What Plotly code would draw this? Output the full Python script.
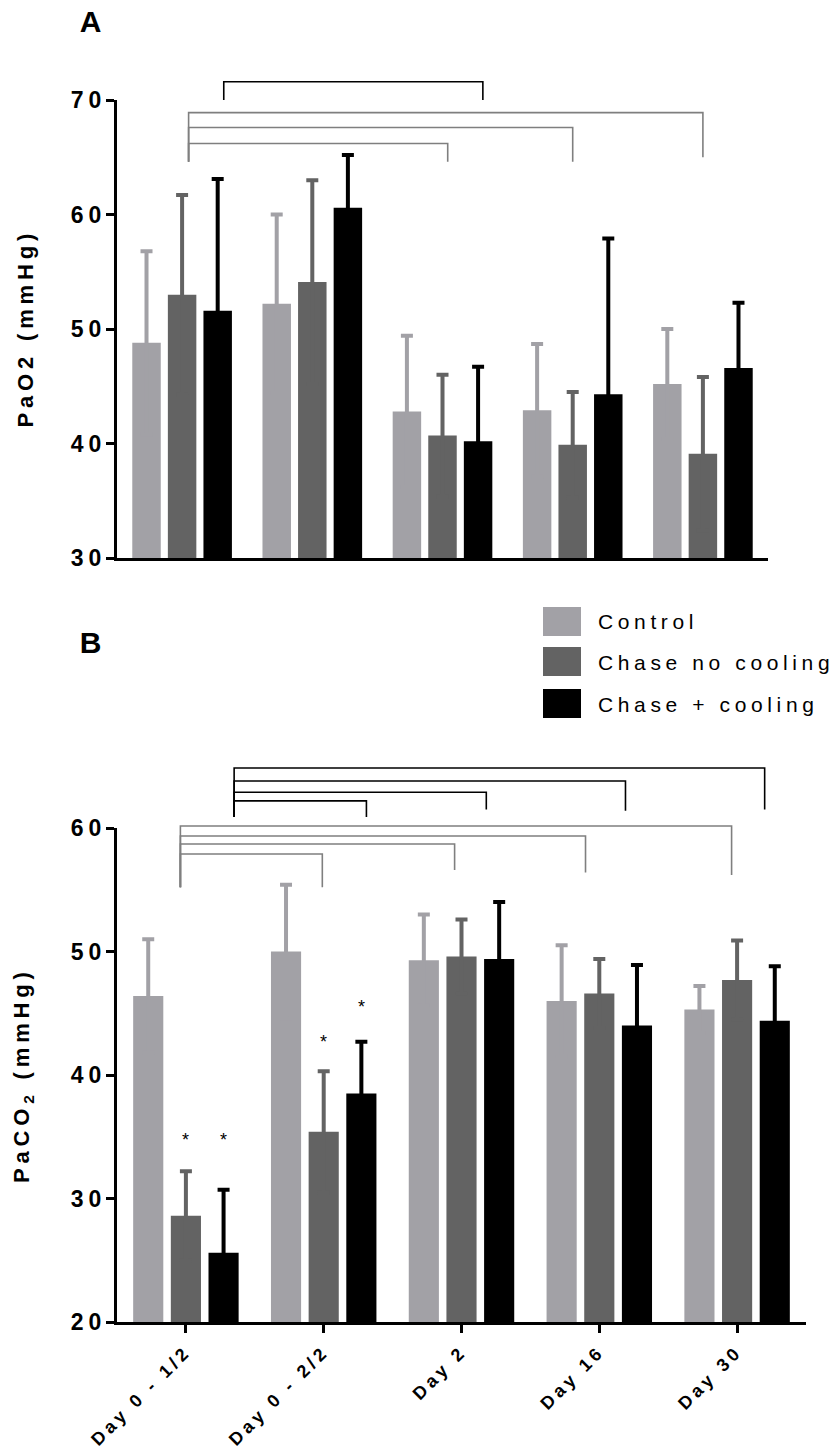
import plotly.graph_objects as go

# ---------------- data ----------------
categories = ["Day 0 - 1/2", "Day 0 - 2/2", "Day 2", "Day 16", "Day 30"]
groups = ["Control", "Chase no cooling", "Chase + cooling"]
colors = ["#a2a1a6", "#636363", "#000000"]

# Panel A: PaO2 (mmHg), mean and SD
pao2_control = [48.8, 52.2, 42.8, 42.9, 45.2]
pao2_control_sd = [8.0, 7.8, 6.6, 5.8, 4.8]
pao2_nocool = [53.0, 54.1, 40.7, 39.9, 39.1]
pao2_nocool_sd = [8.7, 8.9, 5.3, 4.6, 6.7]
pao2_cool = [51.6, 60.6, 40.2, 44.3, 46.6]
pao2_cool_sd = [11.5, 4.6, 6.5, 13.6, 5.7]

# Panel B: PaCO2 (mmHg), mean and SD
paco2_control = [46.4, 50.0, 49.3, 46.0, 45.3]
paco2_control_sd = [4.6, 5.4, 3.7, 4.5, 1.9]
paco2_nocool = [28.6, 35.4, 49.6, 46.6, 47.7]
paco2_nocool_sd = [3.6, 4.9, 3.0, 2.8, 3.2]
paco2_cool = [25.6, 38.5, 49.4, 44.0, 44.4]
paco2_cool_sd = [5.1, 4.2, 4.6, 4.9, 4.4]

# significance brackets: (x_left, x_right, y_bar, y_left_end, y_right_end, colour)
pao2_brackets = [
    (0.32, 2.31, 71.6, 70.0, 70.0, "#000000"),
    (0.05, 4.00, 68.9, 64.6, 65.0, "#7f7f7f"),
    (0.05, 3.00, 67.6, 64.6, 64.6, "#7f7f7f"),
    (0.05, 2.04, 66.2, 64.6, 64.6, "#7f7f7f"),
]
paco2_brackets = [
    (0.35, 4.20, 64.86, 60.9, 61.5, "#000000"),
    (0.35, 3.19, 63.8, 60.9, 61.4, "#000000"),
    (0.35, 2.18, 62.9, 60.9, 61.5, "#000000"),
    (0.35, 1.31, 62.2, 60.9, 60.9, "#000000"),
    (-0.04, 3.96, 60.16, 55.2, 56.2, "#7f7f7f"),
    (-0.04, 2.90, 59.35, 55.2, 56.4, "#7f7f7f"),
    (-0.04, 1.95, 58.7, 55.2, 56.6, "#7f7f7f"),
    (-0.04, 0.99, 57.9, 55.2, 55.2, "#7f7f7f"),
]
# asterisks (x position in category units, y value)
paco2_stars_x = [0.0, 0.272, 1.0, 1.272]
paco2_stars_y = [35.1, 35.1, 43.0, 45.8]

pao2_range = [30, 70]
paco2_range = [20, 60]

W, H = 840, 1452
FONT = "Liberation Sans, Arial, Helvetica, sans-serif"


def px_x(p):
    return p / W


def px_y(p):
    return 1 - p / H


fig = go.Figure()

panelA = [(pao2_control, pao2_control_sd), (pao2_nocool, pao2_nocool_sd), (pao2_cool, pao2_cool_sd)]
panelB = [(paco2_control, paco2_control_sd), (paco2_nocool, paco2_nocool_sd), (paco2_cool, paco2_cool_sd)]

for panel, xa, ya in [(panelA, "x", "y"), (panelB, "x2", "y2")]:
    for (vals, sd), name, col in zip(panel, groups, colors):
        fig.add_trace(go.Bar(
            x=categories, y=vals, name=name, marker=dict(color=col, line=dict(width=0)),
            error_y=dict(type="data", symmetric=True, array=sd,
                         color=col, thickness=4, width=6),
            xaxis=xa, yaxis=ya, showlegend=False, offsetgroup=name,
        ))


def add_brackets(brackets, xref, yref, rng):
    def f(v):
        return (v - rng[0]) / (rng[1] - rng[0])
    for x0, x1, yb, yl, yr, col in brackets:
        path = f"M {x0},{f(yl)} L {x0},{f(yb)} L {x1},{f(yb)} L {x1},{f(yr)}"
        fig.add_shape(type="path", path=path, xref=xref, yref=yref + " domain",
                      line=dict(color=col, width=1.6))


add_brackets(pao2_brackets, "x", "y", pao2_range)
add_brackets(paco2_brackets, "x2", "y2", paco2_range)

for sx, sy in zip(paco2_stars_x, paco2_stars_y):
    fig.add_annotation(x=sx, y=sy, xref="x2", yref="y2", text="*", showarrow=False,
                       font=dict(family=FONT, size=18, color="black"),
                       xanchor="center", yanchor="middle", yshift=-4, xshift=2)

# axis titles
fig.add_annotation(text="PaO2 (mmHg)", x=px_x(25), xref="paper", y=0.5, yref="y domain",
                   textangle=-90, showarrow=False, xanchor="center", yanchor="middle",
                   font=dict(family=FONT, size=22, color="black", weight="bold"))
fig.add_annotation(text="PaCO<sub>2</sub> (mmHg)", x=px_x(23), xref="paper", y=0.5, yref="y2 domain",
                   textangle=-90, showarrow=False, xanchor="center", yanchor="middle",
                   font=dict(family=FONT, size=22, color="black", weight="bold"))

# panel letters
fig.add_annotation(text="A", x=px_x(94), y=px_y(21), xref="paper", yref="paper", showarrow=False,
                   xanchor="center", yanchor="middle",
                   font=dict(family=FONT, size=30, color="black", weight="bold"))
fig.add_annotation(text="B", x=px_x(94), y=px_y(642), xref="paper", yref="paper", showarrow=False,
                   xanchor="center", yanchor="middle",
                   font=dict(family=FONT, size=30, color="black", weight="bold"))

# custom legend
leg_tops = [607, 647, 689]
for name, col, top in zip(groups, colors, leg_tops):
    fig.add_shape(type="rect", xref="paper", yref="paper",
                  x0=px_x(543), x1=px_x(581), y0=px_y(top + 29), y1=px_y(top),
                  fillcolor=col, line=dict(width=0))
    fig.add_annotation(text=name, x=px_x(596), y=px_y(top + 15), xref="paper", yref="paper",
                       showarrow=False, xanchor="left", yanchor="middle", align="left",
                       font=dict(family=FONT, size=21, color="black"))

tickfont = dict(family=FONT, size=23, color="black", weight="bold")
common_y = dict(showline=True, linewidth=3, linecolor="black", ticks="outside", ticklen=8,
                tickwidth=3, tickcolor="black", showgrid=False, zeroline=False, dtick=10,
                tickfont=tickfont, automargin=False, ticklabelstandoff=-5)

fig.update_layout(
    width=W, height=H,
    margin=dict(l=0, r=0, t=0, b=0),
    paper_bgcolor="white", plot_bgcolor="white",
    barmode="group", bargap=0.18, bargroupgap=0.2,
    showlegend=False,
    xaxis=dict(domain=[px_x(117), px_x(768)], anchor="y", range=[-0.5, 4.5],
               showline=True, linewidth=3, linecolor="black", showticklabels=False,
               ticks="", showgrid=False, zeroline=False, automargin=False),
    yaxis=dict(domain=[px_y(558), px_y(100)], anchor="x", range=pao2_range, **common_y),
    xaxis2=dict(domain=[px_x(117), px_x(806)], anchor="y2", range=[-0.5, 4.5],
                showline=True, linewidth=3, linecolor="black", ticks="outside", ticklen=8,
                tickwidth=3, tickcolor="black", tickangle=-45, showgrid=False, zeroline=False,
                tickfont=dict(family=FONT, size=18, color="black", weight="bold"),
                automargin=False, ticklabelstandoff=1),
    yaxis2=dict(domain=[px_y(1322), px_y(828)], anchor="x2", range=paco2_range, **common_y),
)

post = ("var s=document.createElement('style');"
        "s.textContent='svg text{letter-spacing:0.22em}';"
        "document.head.appendChild(s);")
fig.write_html("out.html", post_script=post, config={"displayModeBar": False})
